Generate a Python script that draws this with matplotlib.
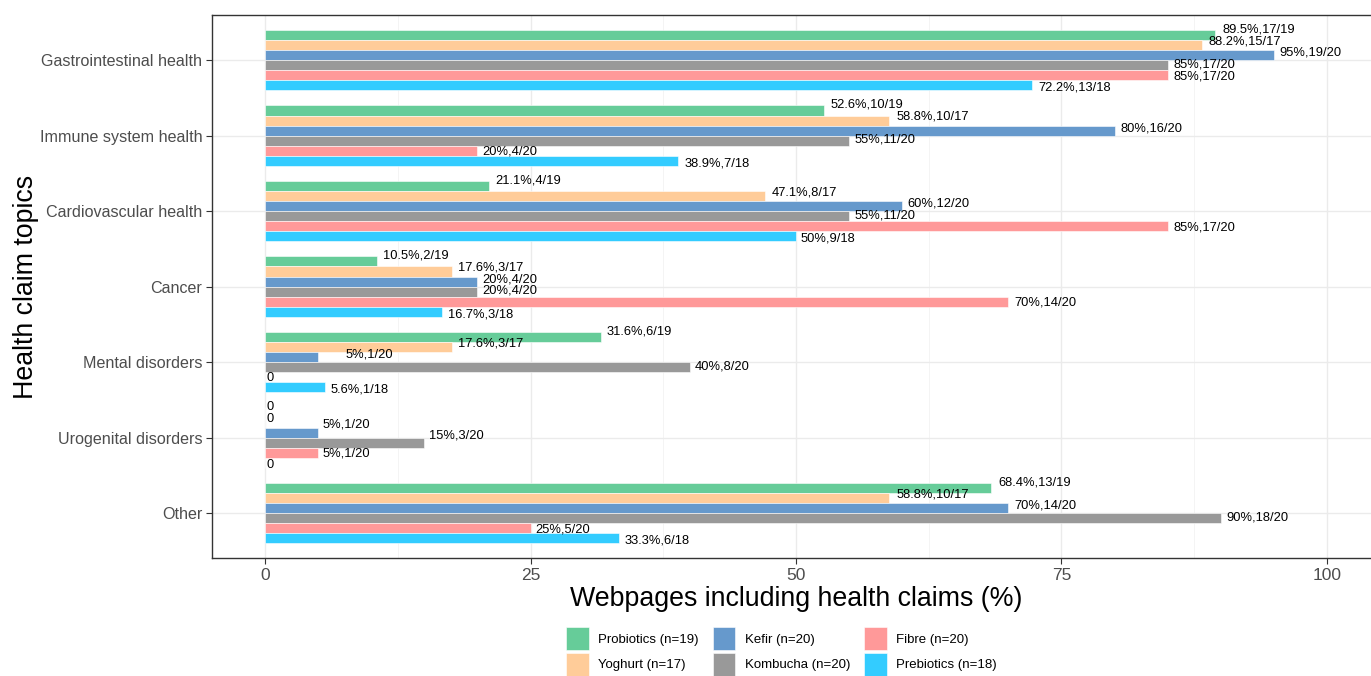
import numpy as np
import matplotlib.pyplot as plt
from matplotlib.ticker import MultipleLocator

plt.rcParams['font.family'] = ['Liberation Sans', 'DejaVu Sans']

topics = ['Gastrointestinal health', 'Immune system health', 'Cardiovascular health',
          'Cancer', 'Mental disorders', 'Urogenital disorders', 'Other']
series = ['Probiotics (n=19)', 'Yoghurt (n=17)', 'Kefir (n=20)',
          'Kombucha (n=20)', 'Fibre (n=20)', 'Prebiotics (n=18)']
colors = ['#66CC99', '#FFCC99', '#6699CC', '#999999', '#FF9999', '#33CCFF']

# percentage of webpages, one list per product
probiotics = [89.5, 52.6, 21.1, 10.5, 31.6, 0, 68.4]
yoghurt = [88.2, 58.8, 47.1, 17.6, 17.6, 0, 58.8]
kefir = [95, 80, 60, 20, 5, 5, 70]
kombucha = [85, 55, 55, 20, 40, 15, 90]
fibre = [85, 20, 85, 70, 0, 5, 25]
prebiotics = [72.2, 38.9, 50, 16.7, 5.6, 0, 33.3]

# counts shown in labels
probiotics_n = ['17/19', '10/19', '4/19', '2/19', '6/19', '', '13/19']
yoghurt_n = ['15/17', '10/17', '8/17', '3/17', '3/17', '', '10/17']
kefir_n = ['19/20', '16/20', '12/20', '4/20', '1/20', '1/20', '14/20']
kombucha_n = ['17/20', '11/20', '11/20', '4/20', '8/20', '3/20', '18/20']
fibre_n = ['17/20', '4/20', '17/20', '14/20', '', '1/20', '5/20']
prebiotics_n = ['13/18', '7/18', '9/18', '3/18', '1/18', '', '6/18']

values = [probiotics, yoghurt, kefir, kombucha, fibre, prebiotics]
counts = [probiotics_n, yoghurt_n, kefir_n, kombucha_n, fibre_n, prebiotics_n]

fig = plt.figure(figsize=(13.71, 6.76), dpi=100)
# panel runs a little past the right edge of the image, as in the original
ax = fig.add_axes([0.1546, 0.174, 0.852, 0.804])

ypos = np.arange(len(topics))
bw = 0.8 / 6
for i, (vals, cnts) in enumerate(zip(values, counts)):
    yy = ypos + (i - 2.5) * bw
    ax.barh(yy, vals, height=bw, color=colors[i], edgecolor='white',
            linewidth=0.4, label=series[i], zorder=2)
    for j, (v, c) in enumerate(zip(vals, cnts)):
        lab = '0' if v == 0 else f'{v:g}%,{c}'
        ty = ypos[j] + (i - 2.5) * 0.155 - 0.02
        dx = 0.55 * len(lab) + 0.6
        # a couple of labels were nudged in the original
        if j == 4 and i == 2:
            dx = 27
        if j == 5 and i in (2, 3):
            ty -= 0.08
        ax.annotate(lab, (v, ty), xytext=(dx * 0.72, 0), textcoords='offset points',
                    ha='left', va='center', fontsize=9.3, color='black', zorder=3)

ax.set_xlim(-5, 105)
ax.set_ylim(len(topics) - 0.4, -0.6)
ax.set_yticks(ypos)
ax.set_yticklabels(topics)
ax.xaxis.set_major_locator(MultipleLocator(25))
ax.xaxis.set_minor_locator(MultipleLocator(12.5))
ax.grid(True, which='major', color='#EBEBEB', linewidth=1.0, zorder=0)
ax.grid(True, which='minor', axis='x', color='#F2F2F2', linewidth=0.6, zorder=0)
ax.set_axisbelow(True)
ax.tick_params(axis='both', which='major', length=4, width=0.8, color='#333333',
               labelcolor='#4D4D4D', labelsize=11.6, pad=3)
ax.tick_params(axis='x', labelsize=12.5)
ax.tick_params(which='minor', length=0)
for s in ax.spines.values():
    s.set_color('#333333')
    s.set_linewidth(1.0)

ax.set_xlabel('Webpages including health claims (%)', fontsize=19.3, labelpad=2)
ax.set_ylabel('Health claim topics', fontsize=19.3, labelpad=0.5)

fig.legend(loc='upper left', bbox_to_anchor=(0.413, 0.072), ncol=3, frameon=False,
           fontsize=9.5, handlelength=1.7, handleheight=2.3, handletextpad=0.7,
           columnspacing=1.1, labelspacing=0.2, borderaxespad=0, borderpad=0)

fig.savefig('out.png', dpi=100)
